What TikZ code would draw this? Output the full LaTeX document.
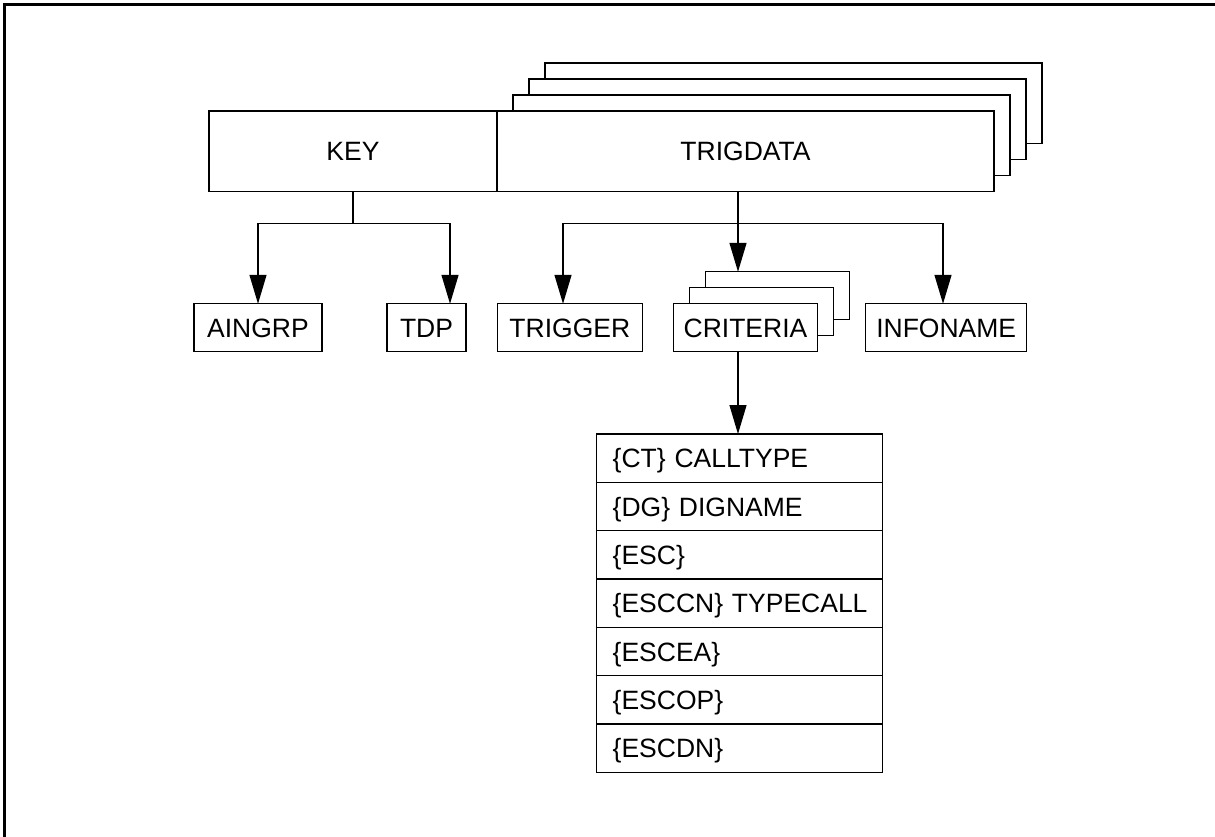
\documentclass[tikz,border=0pt]{standalone}
\usepackage{fontspec}
\setmainfont{Liberation Sans}
\usetikzlibrary{arrows.meta}
\begin{document}
\begin{tikzpicture}[x=1pt,y=-1pt, line width=1.3pt,
  box/.style={draw, fill=white, inner sep=0pt, outer sep=0pt, text height=19pt, text depth=0pt, font=\fontsize{26.5}{30}\selectfont},
  topbox/.style={box, minimum width=497pt, minimum height=80.5pt},
  smallbox/.style={box, minimum height=47.4pt},
  critbox/.style={smallbox, minimum width=144.4pt},
  rowbox/.style={box, text width=254pt, inner xsep=16pt, align=left, minimum height=48.33pt},
  arr/.style={-{Triangle[length=29pt,width=17pt]}}]
\useasboundingbox (0,0) rectangle (1215,837);
% frame
\draw[line width=3pt] (4.3,837) -- (4.3,5) -- (1215,5);
% top record
\node[topbox] (trig4) at (793.5,103.25) {};
\node[topbox] (trig3) at (777.5,119.25) {};
\node[topbox] (trig2) at (761.5,135.25) {};
\node[topbox] (trig) at (745.5,151.25) {TRIGDATA};
\node[box, minimum width=288pt, minimum height=80.5pt] (key) at (353,151.25) {KEY};
% second level
\node[smallbox, minimum width=128pt] (aingrp) at (258,327.5) {AINGRP};
\node[smallbox, minimum width=79pt] (tdp) at (426.5,327.5) {TDP};
\node[smallbox, minimum width=145pt] (trigger) at (569.8,327.5) {TRIGGER};
\node[critbox] (crit3) at (777.5,295.5) {};
\node[critbox] (crit2) at (761.5,311.5) {};
\node[critbox] (crit) at (745.5,327.5) {CRITERIA};
\node[smallbox, minimum width=161pt] (infoname) at (946.2,327.5) {INFONAME};
% table
\node[rowbox] (r1) at (739.7,458.17) {\mbox{\{CT\} CALLTYPE}};
\node[rowbox] (r2) at (739.7,506.5) {\mbox{\{DG\} DIGNAME}};
\node[rowbox] (r3) at (739.7,554.83) {\mbox{\{ESC\}}};
\node[rowbox] (r4) at (739.7,603.17) {\mbox{\{ESCCN\} TYPECALL}};
\node[rowbox] (r5) at (739.7,651.5) {\mbox{\{ESCEA\}}};
\node[rowbox] (r6) at (739.7,699.83) {\mbox{\{ESCOP\}}};
\node[rowbox] (r7) at (739.7,748.17) {\mbox{\{ESCDN\}}};
% connectors from KEY
\coordinate (kj) at (353,223.5);
\draw (key.south) -- (kj);
\draw[arr] (kj) -| (aingrp.north);
\draw[arr] (kj) -| ([xshift=23.5pt]tdp.north);
% connectors from TRIGDATA
\coordinate (tj) at (738,223.5);
\draw ([xshift=-7.5pt]trig.south) -- (tj);
\draw[arr] (tj) -| ([xshift=-6.8pt]trigger.north);
\draw[arr] (tj) -- (tj |- crit3.north);
\draw[arr] (tj) -| ([xshift=-3.2pt]infoname.north);
% criteria to table
\draw[arr] ([xshift=-7.5pt]crit.south) -- ([xshift=-7.5pt]crit.south |- r1.north);
\end{tikzpicture}
\end{document}
